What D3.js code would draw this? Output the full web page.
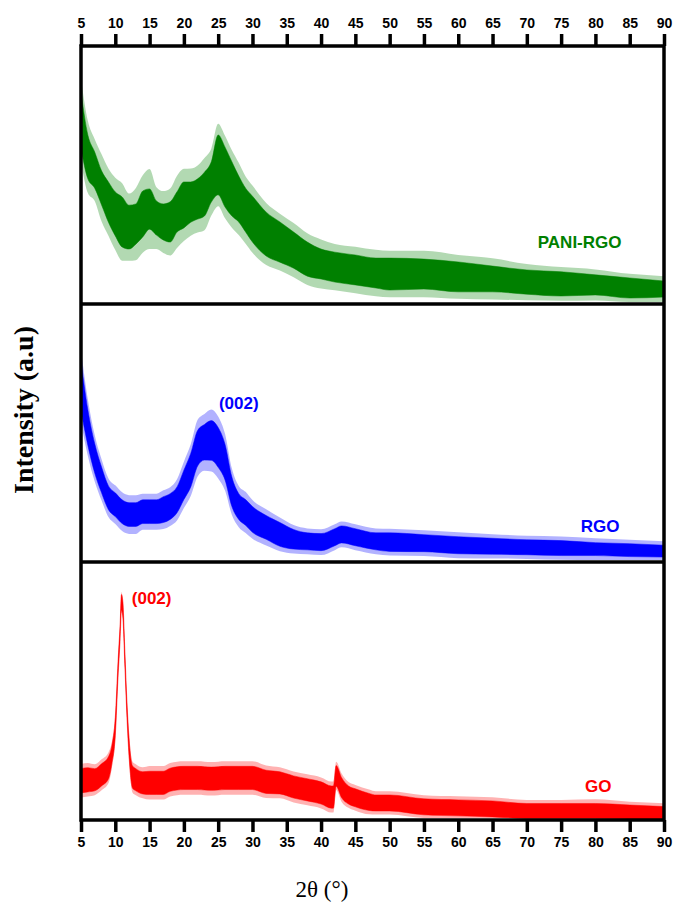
<!DOCTYPE html>
<html>
<head>
<meta charset="utf-8">
<script src="https://cdn.jsdelivr.net/npm/d3@7"></script>
<style>
  html, body { margin: 0; padding: 0; background: #fff; }
  svg { display: block; }
</style>
</head>
<body>
<svg id="chart" width="685" height="921"></svg>
<script>
// ---------- DATA (2θ in degrees, intensity in arbitrary units per panel, 0-100) ----------
const xTicks = [5,10,15,20,25,30,35,40,45,50,55,60,65,70,75,80,85,90];

// PANI-RGO : centre of noisy trace, half-width of dense noise band, half-width reached by spikes
const paniTheta  = [5,6,7,8,9,10,11,12,13,14,15,16,17,18,19,20,21,22,23,24,25,26,27,28,29,30,32,34,36,38,40,42,45,48,50,55,60,65,70,75,80,85,90];
const paniCenter = [71.3,57.0,51.9,45.0,39.5,34.9,31.8,29.8,31.0,34.9,36.8,33.3,31.8,31.8,35.7,38.4,39.5,40.7,42.6,47.3,53.9,49.2,44.6,40.7,36.4,32.9,27.1,24.0,20.9,17.4,15.5,14.3,13.2,12.0,11.6,11.6,10.5,9.7,8.5,7.8,7.4,6.2,5.8];
const paniSpread = [10.9,8.5,7.0,6.6,7.8,8.5,9.7,8.5,7.8,8.9,7.8,6.6,7.0,7.8,7.8,8.9,7.8,7.8,8.5,7.8,11.6,11.6,10.5,8.9,8.5,8.9,8.5,7.8,7.0,6.6,5.8,5.8,5.8,5.8,6.2,5.8,5.8,5.0,4.7,4.7,3.9,3.9,3.1];
const paniSpikes = [16,14,12,13,13,14,15,13,14,15,15.5,12,12,13,14,14,13,13,14,13,16,16,15,14,13,13,12,11,10.5,10,9.5,9,9,9,9,9,8.5,8,7,6.5,6,5.5,5];

// RGO
const rgoTheta  = [5,6,7,8,9,10,11,12,13,14,15,16,17,18,19,20,21,22,23,24,25,26,27,28,29,30,32,34,36,38,40,42,43,45,48,50,55,60,65,70,75,80,85,90];
const rgoCenter = [68.2,52.1,40.2,31.8,24.9,22.2,19.5,18.4,18.4,19.5,19.5,19.5,20.3,21.5,24.1,29.9,35.6,44.1,46.4,47.1,44.4,38.7,27.2,21.5,19.2,16.5,13.4,10.7,8.8,8.0,7.7,9.6,10.7,9.6,8.0,7.7,7.3,6.5,6.1,5.7,5.4,5.0,4.6,4.2];
const rgoSpread = [9.6,6.9,5.7,5.0,4.6,4.6,4.6,4.6,4.6,4.6,4.6,4.6,5.0,5.0,5.0,5.7,6.5,6.9,6.9,7.7,7.7,6.9,5.7,5.0,5.0,5.0,4.6,4.6,3.8,3.3,3.3,3.3,3.3,3.3,3.3,3.6,3.3,3.3,3.1,2.9,2.9,2.5,2.5,2.3];
const rgoSpikes = [14,11,9,8,7.5,7.5,7.5,7.5,7.5,7,7,7,7.5,7.5,8,9,10,11,11,12,12,11,9,8,8,7.5,7,6.5,5.5,5,5,5,5,5,5,5.2,5,5,4.7,4.5,4.5,4.2,4,3.8];

// GO
const goTheta  = [5,6,7,8,9,9.5,10,10.4,10.7,10.9,11.1,11.4,11.7,12,12.5,13,14,15,16,17,18,20,22,24,26,28,30,32,34,36,38,40,41.5,41.8,42.2,43,44,45,47,48,50,55,60,65,70,75,80,85,90];
const goCenter = [15.2,15.6,15.6,17.5,20.2,25.3,36.2,58.4,72.8,84.4,81.7,62.3,42.8,28.4,16.7,15.6,14.4,14.4,14.4,14.4,15.6,16.3,16.3,16.0,16.3,16.3,16.3,14.8,14.4,12.8,11.7,10.5,8.9,8.9,17.1,12.5,9.7,8.6,7.0,6.6,6.6,5.1,4.7,4.3,3.5,3.5,3.5,3.1,2.7];
const goSpread = [4.7,4.7,4.3,4.3,4.3,3.5,3.5,3.0,3.0,3.0,3.0,3.0,3.0,3.5,4.3,4.3,4.3,4.5,4.5,4.5,4.5,4.5,4.5,4.5,4.5,4.5,4.5,4.5,4.3,4.3,4.3,4.3,4.3,4.3,4.0,3.9,3.5,3.5,3.3,3.1,3.1,3.1,3.1,3.1,2.9,2.9,2.9,2.7,2.5];
const goSpikes = [6.5,6.5,6,6,6,5,5,4,4,4,4,4,4,5,6,6,6,6.5,6.5,6.5,6.5,6.5,6.5,6.5,6.5,6.5,6.5,6.3,6,6,6,6,6,6,5.5,5.5,5,5,4.8,4.5,4.5,4.5,4.5,4.5,4.3,4.3,4.5,4,3.8];

const seriesNames  = ["PANI-RGO", "RGO", "GO"];
const seriesColors = ["#008000", "#0000ff", "#ff0000"];

// annotations: [panel index, 2θ, intensity, text]
const annotations = [
  [0, 77.7, 21.7, "PANI-RGO"],
  [1, 28.0, 59.4, "(002)"],
  [1, 80.7, 11.5, "RGO"],
  [2, 15.3, 83.7, "(002)"],
  [2, 80.4, 10.9, "GO"]
];

// ---------- LAYOUT ----------
const svg = d3.select("#chart");
const M = {left: 81, right: 664, top: 46, bottom: 820};
const panelH = (M.bottom - M.top) / 3;

const x = d3.scaleLinear().domain([5, 90]).range([M.left, M.right]);
const yScales = [0,1,2].map(i =>
  d3.scaleLinear().domain([0, 100]).range([M.top + panelH * (i + 1), M.top + panelH * i])
);

const series = [
  {theta: paniTheta, c: paniCenter, s: paniSpread, o: paniSpikes},
  {theta: rgoTheta,  c: rgoCenter,  s: rgoSpread,  o: rgoSpikes},
  {theta: goTheta,   c: goCenter,   s: goSpread,   o: goSpikes}
];

svg.append("rect").attr("width", 685).attr("height", 921).attr("fill", "#fff");

series.forEach((ser, i) => {
  const y = yScales[i];
  const pts = ser.theta.map((t, k) => ({t, c: ser.c[k], s: ser.s[k], o: ser.o[k]}));
  const outer = d3.area()
    .x(d => x(d.t))
    .y0(d => y(Math.max(d.c - d.o, 0.8)))
    .y1(d => y(d.c + d.o))
    .curve(d3.curveMonotoneX);
  const inner = d3.area()
    .x(d => x(d.t))
    .y0(d => y(d.c - d.s))
    .y1(d => y(d.c + d.s))
    .curve(d3.curveMonotoneX);
  svg.append("path")
    .datum(pts)
    .attr("d", outer)
    .attr("fill", seriesColors[i])
    .attr("fill-opacity", 0.3);
  svg.append("path")
    .datum(pts)
    .attr("d", inner)
    .attr("fill", seriesColors[i])
    .attr("stroke", seriesColors[i])
    .attr("stroke-width", 1)
    .attr("stroke-opacity", 0.5);
});

// annotations
annotations.forEach(([p, t, v, txt]) => {
  svg.append("text")
    .attr("x", x(t)).attr("y", yScales[p](v))
    .attr("text-anchor", "middle")
    .attr("font-family", "'Liberation Sans', Arial, sans-serif")
    .attr("font-weight", "bold")
    .attr("font-size", 17)
    .attr("fill", seriesColors[p])
    .text(txt);
});

// frame and dividers
svg.append("rect")
  .attr("x", M.left).attr("y", M.top)
  .attr("width", M.right - M.left).attr("height", M.bottom - M.top)
  .attr("fill", "none").attr("stroke", "#000").attr("stroke-width", 3.5);
[1, 2].forEach(i => {
  svg.append("line")
    .attr("x1", M.left).attr("x2", M.right)
    .attr("y1", M.top + panelH * i).attr("y2", M.top + panelH * i)
    .attr("stroke", "#000").attr("stroke-width", 3.5);
});

// axes
function styleAxis(g) {
  g.select(".domain").remove();
  g.selectAll(".tick line").attr("stroke", "#000").attr("stroke-width", 3.5);
  g.selectAll(".tick text")
    .attr("fill", "#000")
    .attr("font-family", "'Liberation Sans', Arial, sans-serif")
    .attr("font-weight", "bold")
    .attr("font-size", 14);
}
svg.append("g")
  .attr("transform", `translate(0,${M.top})`)
  .call(d3.axisTop(x).tickValues(xTicks).tickSize(12).tickPadding(6).tickFormat(d3.format("d")))
  .call(styleAxis);
svg.append("g")
  .attr("transform", `translate(0,${M.bottom})`)
  .call(d3.axisBottom(x).tickValues(xTicks).tickSize(12).tickPadding(5).tickFormat(d3.format("d")))
  .call(styleAxis);

// axis titles
svg.append("text")
  .attr("x", 322).attr("y", 897)
  .attr("text-anchor", "middle")
  .attr("font-family", "'Liberation Serif', 'Times New Roman', serif")
  .attr("font-size", 23)
  .text("2θ (°)");

svg.append("text")
  .attr("transform", "translate(33,410) rotate(-90)")
  .attr("text-anchor", "middle")
  .attr("font-family", "'Liberation Serif', 'Times New Roman', serif")
  .attr("font-weight", "bold")
  .attr("font-size", 28)
  .text("Intensity (a.u)");
</script>
</body>
</html>
